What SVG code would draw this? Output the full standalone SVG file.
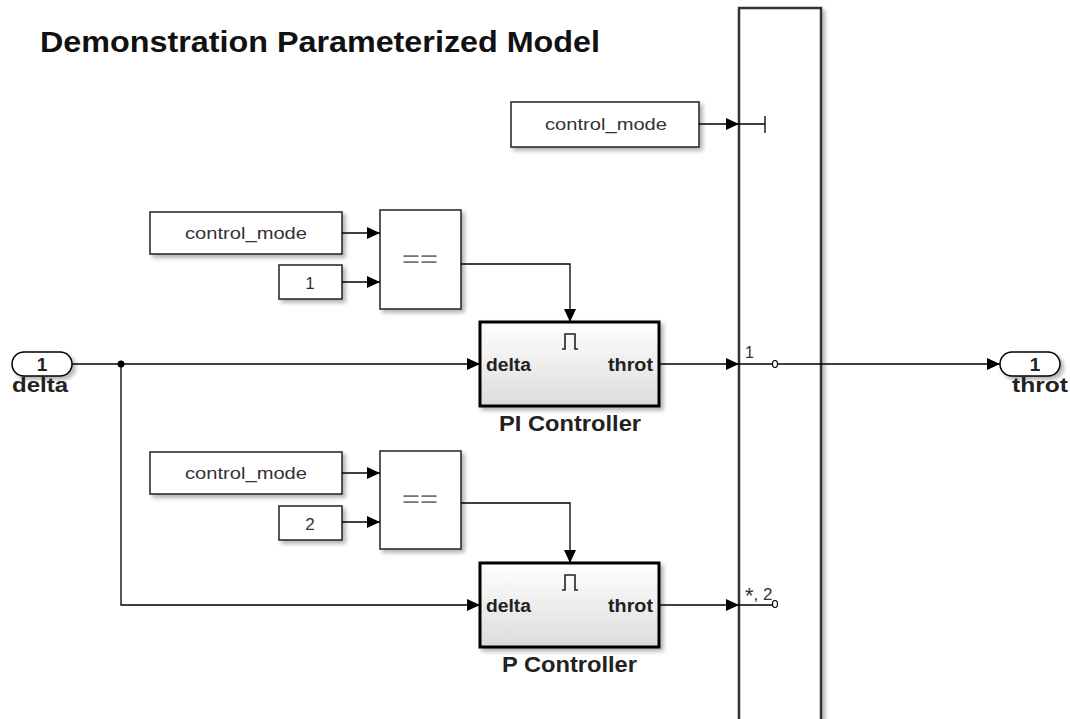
<svg xmlns="http://www.w3.org/2000/svg" width="1070" height="719" viewBox="0 0 1070 719">
<defs>
<filter id="sh" x="-10%" y="-10%" width="130%" height="130%">
<feDropShadow dx="3" dy="3" stdDeviation="2" flood-color="#000" flood-opacity="0.3"/>
</filter>
<linearGradient id="grad" x1="0" y1="0" x2="0" y2="1">
<stop offset="0" stop-color="#ffffff"/>
<stop offset="1" stop-color="#dcdcdc"/>
</linearGradient>
<marker id="arr" markerWidth="14" markerHeight="12" refX="13" refY="6" orient="auto" markerUnits="userSpaceOnUse">
<path d="M0,0 L13,6 L0,12 Z" fill="#000"/>
</marker>
</defs>
<style>
.blk{fill:#fff;stroke:#222;stroke-width:1.5;filter:url(#sh)}
.sub{fill:url(#grad);stroke:#000;stroke-width:3;filter:url(#sh)}
.big{fill:#fff;stroke:#333;stroke-width:2.5;filter:url(#sh)}
.port{fill:#fff;stroke:#000;stroke-width:1.5;filter:url(#sh)}
.ln{fill:none;stroke:#000;stroke-width:1.3}
.lnA{fill:none;stroke:#000;stroke-width:1.3;marker-end:url(#arr)}
.t{font-family:"Liberation Sans",Arial,sans-serif;fill:#333}
.tb{font-family:"Liberation Sans",Arial,sans-serif;font-weight:bold;fill:#222}
</style>
<text x="40" y="52" class="tb" font-size="30" textLength="560" lengthAdjust="spacingAndGlyphs" style="fill:#111">Demonstration Parameterized Model</text>

<g id="merge">
<rect x="739" y="8" width="82" height="730" class="big"/>
</g>

<g id="cm_top">
<rect x="511" y="102" width="188" height="45" class="blk"/>
<text x="545" y="130" class="t" font-size="17" textLength="122" lengthAdjust="spacingAndGlyphs">control_mode</text>
</g>

<g id="cm1">
<rect x="150" y="212" width="192" height="42" class="blk"/>
<text x="185" y="239" class="t" font-size="17" textLength="122" lengthAdjust="spacingAndGlyphs">control_mode</text>
</g>
<g id="c1">
<rect x="279" y="265" width="63" height="34" class="blk"/>
<text x="310" y="289" class="t" font-size="17" text-anchor="middle">1</text>
</g>
<g id="eq1">
<rect x="380" y="210" width="81" height="99" class="blk"/>
<text x="402" y="267" class="t" font-size="24" textLength="36" lengthAdjust="spacingAndGlyphs" style="fill:#777">==</text>
</g>

<g id="cm2">
<rect x="150" y="452" width="192" height="42" class="blk"/>
<text x="185" y="479" class="t" font-size="17" textLength="122" lengthAdjust="spacingAndGlyphs">control_mode</text>
</g>
<g id="c2">
<rect x="279" y="506" width="63" height="34" class="blk"/>
<text x="310" y="530" class="t" font-size="17" text-anchor="middle">2</text>
</g>
<g id="eq2">
<rect x="380" y="451" width="81" height="98" class="blk"/>
<text x="402" y="507" class="t" font-size="24" textLength="36" lengthAdjust="spacingAndGlyphs" style="fill:#777">==</text>
</g>

<g id="pi">
<rect x="480" y="322" width="179" height="84" class="sub"/>
<path d="M562,349 L565,349 L565,334 L575,334 L575,349 L578,349" fill="none" stroke="#222" stroke-width="1.6"/>
<text x="486" y="371" class="tb" font-size="18" textLength="45" lengthAdjust="spacingAndGlyphs">delta</text>
<text x="608" y="371" class="tb" font-size="18" textLength="45" lengthAdjust="spacingAndGlyphs">throt</text>
<text x="499" y="431" class="tb" font-size="22" textLength="142" lengthAdjust="spacingAndGlyphs">PI Controller</text>
</g>

<g id="p">
<rect x="480" y="563" width="179" height="84" class="sub"/>
<path d="M562,590 L565,590 L565,575 L575,575 L575,590 L578,590" fill="none" stroke="#222" stroke-width="1.6"/>
<text x="486" y="612" class="tb" font-size="18" textLength="45" lengthAdjust="spacingAndGlyphs">delta</text>
<text x="608" y="612" class="tb" font-size="18" textLength="45" lengthAdjust="spacingAndGlyphs">throt</text>
<text x="502" y="672" class="tb" font-size="22" textLength="135" lengthAdjust="spacingAndGlyphs">P Controller</text>
</g>

<g id="in_delta">
<rect x="12" y="352" width="60" height="24" rx="12" ry="12" class="port"/>
<text x="42" y="371" class="tb" font-size="19" text-anchor="middle">1</text>
<text x="12" y="392" class="tb" font-size="21" textLength="56" lengthAdjust="spacingAndGlyphs">delta</text>
</g>

<g id="out_throt">
<rect x="1000" y="352" width="60" height="24" rx="12" ry="12" class="port"/>
<text x="1035" y="371" class="tb" font-size="19" text-anchor="middle">1</text>
<text x="1012" y="392" class="tb" font-size="21" textLength="56" lengthAdjust="spacingAndGlyphs">throt</text>
</g>

<g id="connectors">
<path d="M699,124 L739,124" class="lnA"/>
<path d="M739,124 L765,124 M765,116 L765,133" class="ln"/>
<path d="M342,233 L380,233" class="lnA"/>
<path d="M342,282 L380,282" class="lnA"/>
<path d="M461,264 L570,264 L570,322" class="lnA"/>
<path d="M342,473 L380,473" class="lnA"/>
<path d="M342,522 L380,522" class="lnA"/>
<path d="M461,503 L570,503 L570,563" class="lnA"/>
<path d="M72,364 L480,364" class="lnA"/>
<circle cx="121" cy="364" r="3.5" fill="#000"/>
<path d="M121,364 L121,605 L480,605" class="lnA"/>
<path d="M659,364 L739,364" class="lnA"/>
<path d="M659,605 L739,605" class="lnA"/>
<path d="M739,364 L772,364 M778,364 L1000,364" class="lnA"/>
<ellipse cx="775" cy="364" rx="2.5" ry="3.5" fill="none" stroke="#000" stroke-width="1.2"/>
<path d="M739,605 L772,605" class="ln"/>
<ellipse cx="775" cy="604" rx="2.5" ry="3.5" fill="none" stroke="#000" stroke-width="1.2"/>
<text x="745" y="358" class="t" font-size="16">1</text>
<text x="745" y="600" class="t" font-size="17"><tspan font-size="22" dy="3">*</tspan><tspan dy="-3">, 2</tspan></text>
</g>
</svg>
